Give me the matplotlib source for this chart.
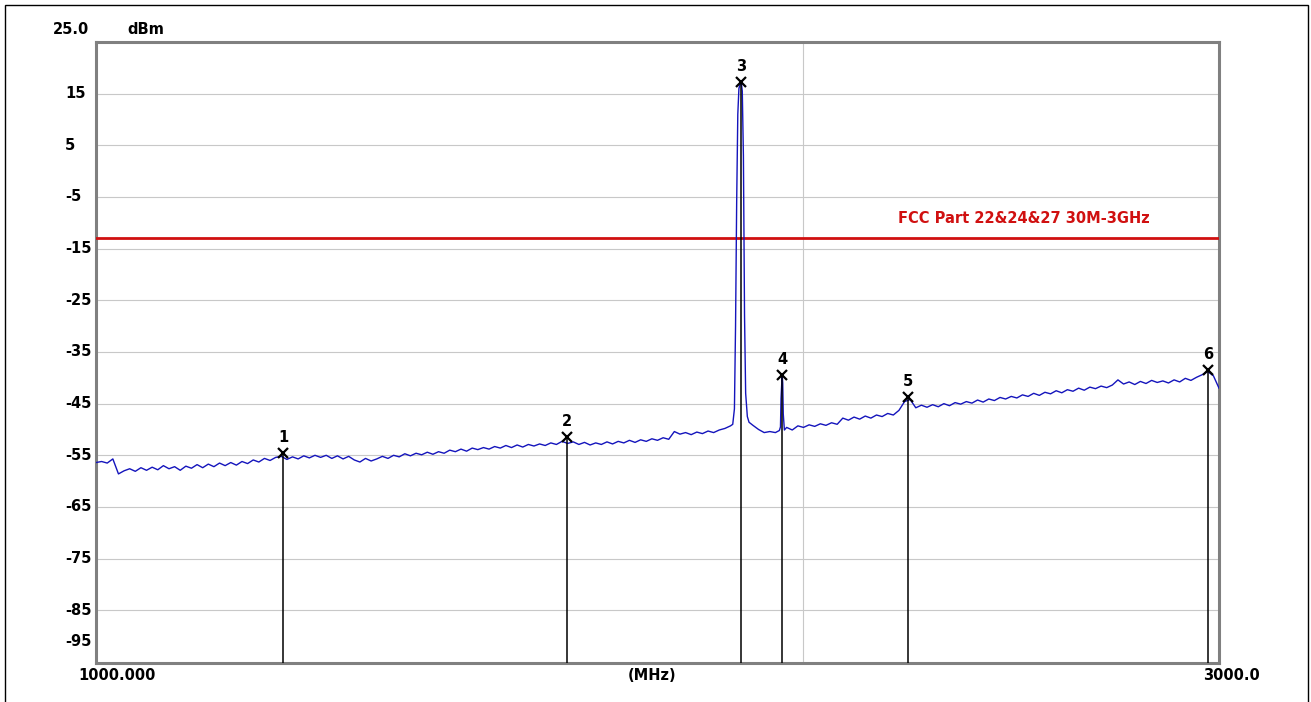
import numpy as np
import matplotlib
matplotlib.use("Agg")
import matplotlib.pyplot as plt
import matplotlib.transforms as mtransforms
from matplotlib.patches import Rectangle

# -------------------------------
# Data
# -------------------------------

# sweep grid, 10 MHz steps from 1000 to 3000 MHz
sweep_start = 1000
sweep_stop = 3000
sweep_step = 10

# noise floor, one row per 100 MHz (dBm)
floor_dbm = [
    -56.4, -56.2, -56.5, -55.7, -58.6, -58.0, -57.6, -58.1, -57.4, -57.9,
    -57.3, -57.8, -57.0, -57.6, -57.2, -57.9, -57.1, -57.5, -56.8, -57.4,
    -56.7, -57.2, -56.5, -57.0, -56.4, -56.9, -56.2, -56.6, -55.9, -56.3,
    -55.6, -56.0, -55.4, -55.2, -55.8, -55.3, -55.7, -55.1, -55.5, -55.0,
    -55.4, -55.0, -55.6, -55.1, -55.7, -55.2, -55.9, -56.3, -55.6, -56.1,
    -55.7, -55.2, -55.6, -55.0, -55.3, -54.7, -55.1, -54.6, -54.9, -54.4,
    -54.8, -54.3, -54.6, -54.0, -54.3, -53.8, -54.2, -53.6, -53.9, -53.5,
    -53.8, -53.3, -53.6, -53.1, -53.5, -53.0, -53.4, -52.9, -53.2, -52.8,
    -53.1, -52.6, -52.9, -52.3, -52.7, -52.4, -52.9, -52.5, -53.0, -52.6,
    -52.9, -52.4, -52.8, -52.3, -52.6, -52.1, -52.5, -52.0, -52.3, -51.8,
    -52.1, -51.6, -51.9, -50.4, -50.9, -50.6, -51.0, -50.5, -50.8, -50.3,
    -50.6, -50.1, -49.8, -49.3, -48.9, -48.9, -48.7, -49.2, -50.0, -50.6,
    -50.4, -50.6, -50.3, -49.6, -50.1, -49.3, -49.6, -49.1, -49.4, -48.9,
    -49.2, -48.7, -49.0, -47.8, -48.2, -47.6, -48.0, -47.4, -47.8, -47.2,
    -47.5, -46.9, -47.2, -46.3, -44.6, -44.2, -45.8, -45.3, -45.7, -45.2,
    -45.6, -45.0, -45.4, -44.8, -45.1, -44.6, -44.9, -44.3, -44.7, -44.1,
    -44.4, -43.8, -44.1, -43.6, -43.9, -43.3, -43.6, -43.0, -43.4, -42.8,
    -43.1, -42.5, -42.9, -42.3, -42.6, -42.0, -42.4, -41.8, -42.1, -41.6,
    -41.9, -41.4, -40.4, -41.2, -40.8, -41.3, -40.7, -41.1, -40.5, -40.9,
    -40.6, -41.0, -40.4, -40.8, -40.1, -40.5, -39.9, -39.4, -38.8, -39.6,
    -42.0,
]

# carrier (marker 3)
carrier_mhz = [2134, 2137, 2139, 2141, 2143, 2145, 2147, 2149, 2151, 2153, 2155, 2157, 2160, 2163]
carrier_dbm = [-49.0, -46.0, -30.0, -6.0, 11.0, 16.0, 16.8, 17.3, 15.5, 3.0, -28.0, -43.0, -47.5, -48.6]

# spur (marker 4)
spur_mhz = [2217, 2219, 2220, 2222, 2223, 2224, 2226]
spur_dbm = [-50.2, -49.5, -44.0, -39.4, -41.0, -47.0, -50.1]

# markers
marker_id = ["1", "2", "3", "4", "5", "6"]
marker_mhz = [1333, 1839, 2149, 2222, 2446, 2980]
marker_dbm = [-54.5, -51.4, 17.3, -39.4, -43.7, -38.4]

limit_dbm = -13
limit_label = "FCC Part 22&24&27 30M-3GHz"
cursor_mhz = 2259

ytick_vals = [15, 5, -5, -15, -25, -35, -45, -55, -65, -75, -85]
ytick_text = ["15", "5", "-5", "-15", "-25", "-35", "-45", "-55", "-65", "-75", "-85"]

# -------------------------------
# Build trace
# -------------------------------

grid_mhz = np.arange(sweep_start, sweep_stop + 1, sweep_step)
floor_arr = np.array(floor_dbm)
keep = ~(((grid_mhz > 2132) & (grid_mhz < 2164)) | ((grid_mhz > 2215) & (grid_mhz < 2227)))

freq = np.concatenate([grid_mhz[keep], carrier_mhz, spur_mhz])
level = np.concatenate([floor_arr[keep], carrier_dbm, spur_dbm])
order = np.argsort(freq)
freq = freq[order]
level = level[order]

# -------------------------------
# Figure
# -------------------------------

plt.rcParams["font.family"] = ["DejaVu Sans"]
plt.rcParams["font.weight"] = "bold"
fs = 10.5

fig = plt.figure(figsize=(13.11, 7.02), dpi=100)
ax = fig.add_axes([96 / 1311, 1 - 663 / 702, 1123 / 1311, 621 / 702])

ax.set_xlim(sweep_start, sweep_stop)
ax.set_ylim(-95.2, 25)

grid_col = "#c8c8c8"
for y in ytick_vals:
    ax.axhline(y, color=grid_col, lw=0.8, zorder=1)
ax.axvline(cursor_mhz, color=grid_col, lw=0.8, zorder=1)

ax.set_xticks([])
ax.set_yticks([])
for side in ax.spines.values():
    side.set_color("#808080")
    side.set_linewidth(2.2)

ytrans = mtransforms.blended_transform_factory(ax.transAxes, ax.transData)

# limit line
ax.axhline(limit_dbm, color="#d01010", lw=2.0, zorder=3)
ax.text(0.714, limit_dbm + 3.9, limit_label, transform=ytrans,
        color="#d01010", fontsize=fs, fontweight="bold", ha="left", va="center")

# trace
ax.plot(freq, level, color="#1414bc", lw=1.0, zorder=4)

# markers
for name, f, lv in zip(marker_id, marker_mhz, marker_dbm):
    ax.plot([f, f], [lv, -95.2], color="black", lw=1.1, zorder=5)
    ax.plot(f, lv, marker="x", color="black", ms=7.5, mew=1.6, zorder=6)
    ax.annotate(name, (f, lv), xytext=(0, 15), textcoords="offset pixels",
                ha="center", va="center", fontsize=fs, fontweight="bold", zorder=6)

# y labels, drawn by hand like the analyzer does
for v, t in zip(ytick_vals, ytick_text):
    ax.text(-31 / 1123, v, t, transform=ytrans, ha="left", va="center", fontsize=fs, fontweight="bold")
ax.text(-31 / 1123, -91.0, "-95", transform=ytrans, ha="left", va="center", fontsize=fs, fontweight="bold")
ax.text(-43 / 1123, 27.4, "25.0", transform=ytrans, ha="left", va="center", fontsize=fs, fontweight="bold", clip_on=False)
ax.text(31 / 1123, 27.4, "dBm", transform=ytrans, ha="left", va="center", fontsize=fs, fontweight="bold", clip_on=False)

# x labels
fig.text(78 / 1311, 1 - 675 / 702, "1000.000", ha="left", va="center", fontsize=fs, fontweight="bold")
fig.text(652 / 1311, 1 - 675 / 702, "(MHz)", ha="center", va="center", fontsize=fs, fontweight="bold")
fig.text(1203 / 1311, 1 - 675 / 702, "3000.0", ha="left", va="center", fontsize=fs, fontweight="bold")

# outer frame
fig.patches.append(Rectangle((5 / 1311, -0.02), 1303 / 1311, 1.02 - 5 / 702, transform=fig.transFigure,
                             fill=False, edgecolor="black", lw=1.0))

fig.savefig("out.png", dpi=100)
